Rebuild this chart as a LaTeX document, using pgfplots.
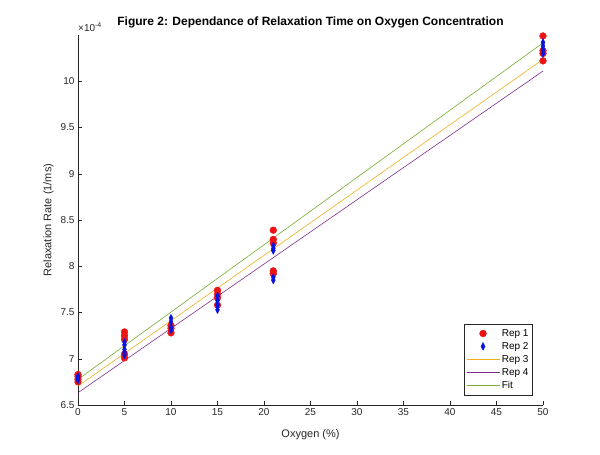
\documentclass[border=0pt]{standalone}
\usepackage{fontspec}
\setmainfont{Liberation Sans}
\usepackage{pgfplots}
\pgfplotsset{compat=1.18}
\definecolor{mred}{RGB}{235,20,20}
\definecolor{mblue}{RGB}{10,20,220}
\definecolor{myel}{RGB}{237,177,32}
\definecolor{mpur}{RGB}{126,47,142}
\definecolor{mgrn}{RGB}{119,172,48}
\definecolor{axgray}{RGB}{38,38,38}
\pgfplotsset{
  marklegend/.style={legend image code/.code={\path[draw=none,fill=none] (0pt,-0.1pt) rectangle (33pt,0.1pt); \draw[##1, only marks] plot coordinates {(16.5pt,0pt)};}},
  linelegend/.style={legend image code/.code={\draw[##1] (0pt,0pt) -- (33pt,0pt);}},
}
\begin{document}
\begin{tikzpicture}
\useasboundingbox (-78pt,-50pt) rectangle (522pt,405pt);
\begin{axis}[
  at={(0,0)}, anchor=south west,
  scale only axis, width=465pt, height=370pt,
  xmin=0, xmax=50, ymin=6.5, ymax=10.5,
  axis x line*=bottom, axis y line*=left,
  axis line style={axgray, line width=0.5pt},
  xtick={0,5,...,50},
  ytick={6.5,7,7.5,8,8.5,9,9.5,10},
  yticklabels={6.5,7,7.5,8,8.5,9,9.5,10},
  tick align=inside,
  major tick length=4pt,
  tick style={axgray, line width=0.5pt},
  /pgf/number format/assume math mode=true,
  ticklabel style={font=\fontsize{10}{12}\selectfont, text=axgray},
  xlabel={Oxygen (\%)},
  ylabel={Relaxation Rate (1/ms)},
  label style={font=\fontsize{11}{13}\selectfont, text=axgray},
  xlabel style={yshift=-7pt},
  ylabel style={yshift=0pt},
  title={\textbf{Figure 2: Dependance of Relaxation Time on Oxygen Concentration}},
  title style={font=\fontsize{12}{14}\selectfont, yshift=-3pt},
  legend style={at={(0.978,0.027)}, anchor=south east, draw=axgray, line width=0.5pt,
    font=\fontsize{10}{11}\selectfont, row sep=0.5pt, inner xsep=2pt, inner ysep=3pt},
  legend cell align=left,
  clip=false,
]
\addplot[only marks, mark=*, mark size=3.4pt, mred, mark options={draw=mred, fill=mred}, marklegend] coordinates {
(0,6.75) (0,6.78) (0,6.81) (0,6.83)
(5,7.29) (5,7.25) (5,7.21) (5,7.05) (5,7.01)
(10,7.36) (10,7.33) (10,7.28)
(15,7.74) (15,7.70) (15,7.66) (15,7.58)
(21,8.39) (21,8.29) (21,8.25) (21,7.95) (21,7.92)
(50,10.49) (50,10.33) (50,10.30) (50,10.22)
};
\addlegendentry{Rep 1}
\addplot[only marks, mark=diamond*, mark size=3.8pt, mblue, mark options={draw=mblue, fill=mblue, xscale=0.7}, marklegend] coordinates {
(0,6.77) (0,6.79) (0,6.81)
(5,7.18) (5,7.15) (5,7.10) (5,7.07) (5,7.04)
(10,7.44) (10,7.40) (10,7.34) (10,7.31)
(15,7.68) (15,7.63) (15,7.58) (15,7.53)
(21,8.22) (21,8.19) (21,8.17) (21,7.88) (21,7.85)
(50,10.42) (50,10.38) (50,10.34) (50,10.30)
};
\addlegendentry{Rep 2}
\addplot[myel, line width=0.6pt, no marks, linelegend] coordinates {(0,6.705) (50,10.236)};
\addlegendentry{Rep 3}
\addplot[mpur, line width=0.6pt, no marks, linelegend] coordinates {(0,6.633) (50,10.11)};
\addlegendentry{Rep 4}
\addplot[mgrn, line width=0.6pt, no marks, linelegend] coordinates {(0,6.777) (50,10.415)};
\addlegendentry{Fit}
\node[anchor=south west, font=\fontsize{10}{11}\selectfont, text=axgray, inner sep=0pt] at (axis cs:0,10.54) {×10\textsuperscript{-4}};
\end{axis}
\end{tikzpicture}
\end{document}
